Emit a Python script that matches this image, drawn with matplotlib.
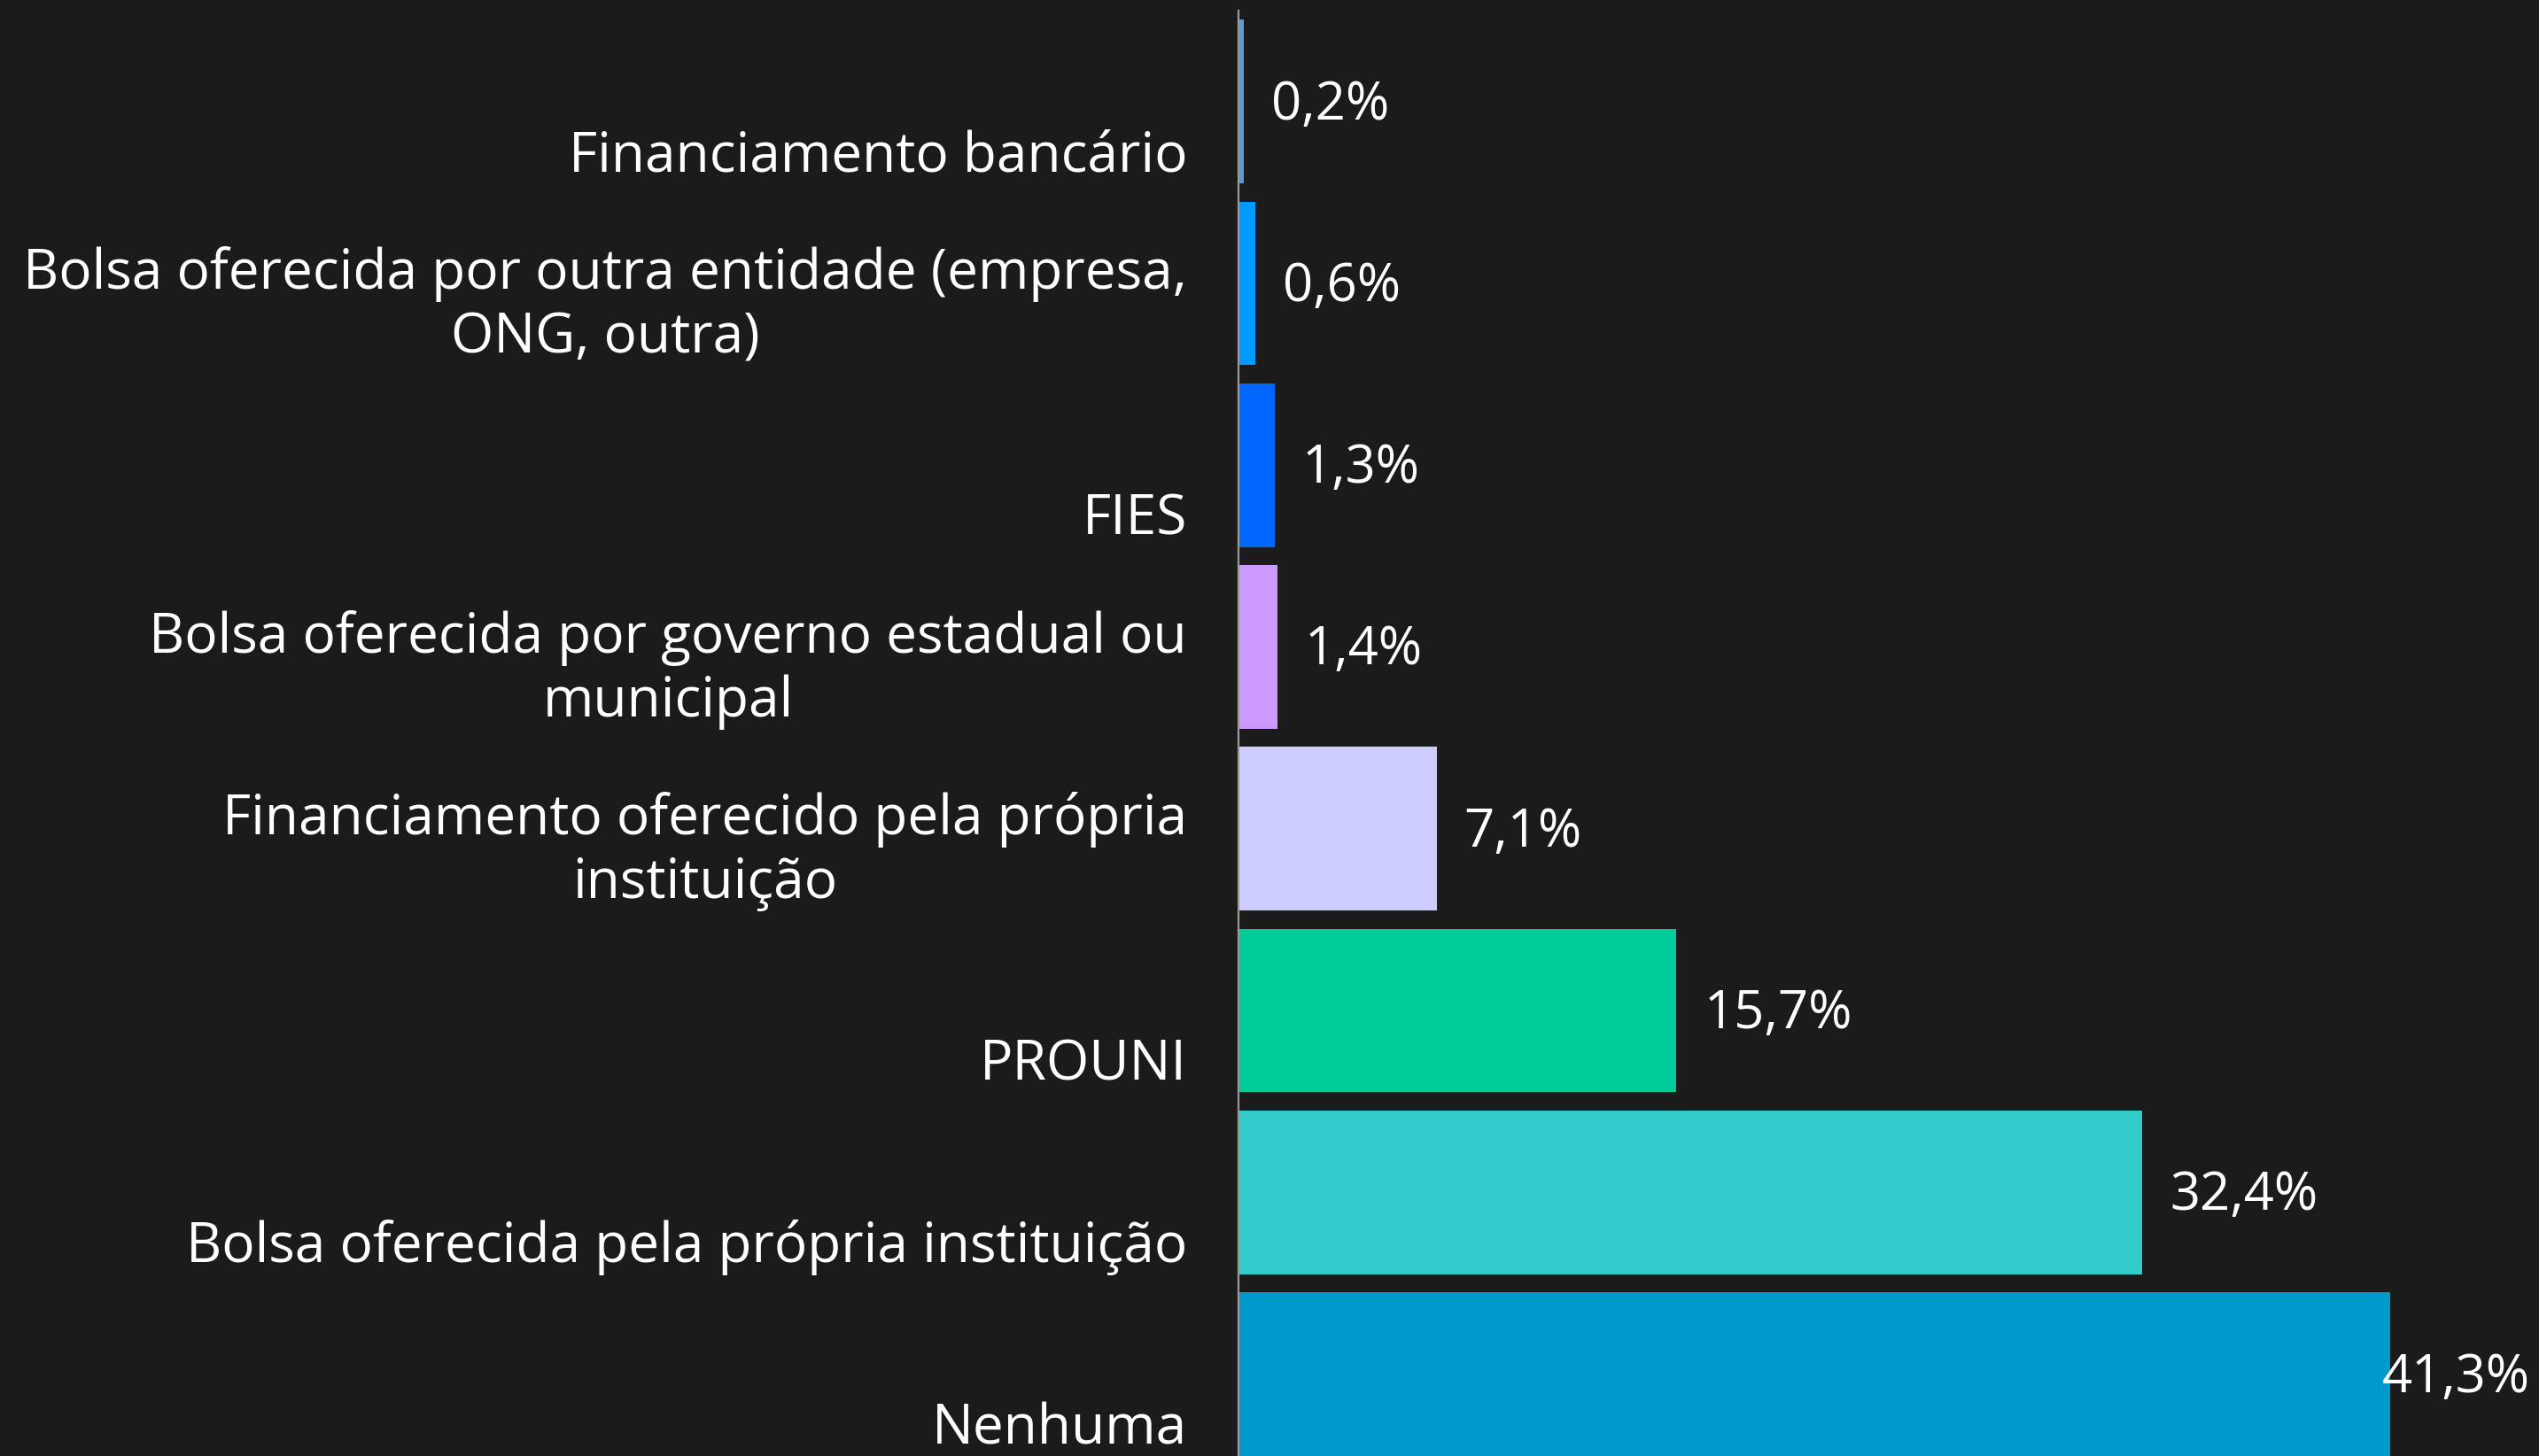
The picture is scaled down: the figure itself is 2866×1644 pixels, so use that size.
import numpy as np
import matplotlib
matplotlib.use("Agg")
import matplotlib.pyplot as plt
import matplotlib.transforms as mtransforms

labels = [
    "Financiamento bancário",
    "Bolsa oferecida por outra entidade (empresa,\nONG, outra)",
    "FIES",
    "Bolsa oferecida por governo estadual ou\nmunicipal",
    "Financiamento oferecido pela própria\ninstituição",
    "PROUNI",
    "Bolsa oferecida pela própria instituição",
    "Nenhuma",
]
values = [0.2, 0.6, 1.3, 1.4, 7.1, 15.7, 32.4, 41.3]
value_text = ["0,2%", "0,6%", "1,3%", "1,4%", "7,1%", "15,7%", "32,4%", "41,3%"]
colors = ["#5b9bd5", "#0099ff", "#0066ff", "#cc99ff", "#ccccff", "#00cc99", "#33cccc", "#0099cc"]

bg = "#1b1b1b"
plt.rcParams["font.family"] = ["Open Sans", "DejaVu Sans"]

W, H = 2866, 1644
fig = plt.figure(figsize=(W / 100, H / 100), dpi=100, facecolor=bg)
ax_left = 1398 / W
ax = fig.add_axes([ax_left, 0, 1 - ax_left, 1 - 12 / H], facecolor=bg)

y = np.arange(len(values))
ax.barh(y, values, height=0.9, color=colors, edgecolor="none")

ax.set_xlim(0, 46.63)
ax.set_ylim(7.45, -0.5)
ax.set_xticks([])
ax.set_yticks([])
for s in ["top", "right", "bottom"]:
    ax.spines[s].set_visible(False)
ax.spines["left"].set_color("#9a9a9a")
ax.spines["left"].set_linewidth(1.6)

fs = 44.7

# category labels, right-aligned, baseline below the bar centre
lab_tr = mtransforms.blended_transform_factory(fig.transFigure, ax.transData)
for yi, lab in zip(y, labels):
    ax.text(1340 / W, yi + 0.455, lab, transform=lab_tr, ha="right", va="bottom",
            multialignment="center", fontsize=fs, color="white", linespacing=1.2)

# value labels
off = mtransforms.offset_copy(ax.transData, fig=fig, x=31, y=-4, units="dots")
for yi, v, t in zip(y, values, value_text):
    if v > 40:
        tr = mtransforms.offset_copy(
            mtransforms.blended_transform_factory(ax.transAxes, ax.transData),
            fig=fig, x=0, y=-4, units="dots")
        ax.text(0.993, yi, t, transform=tr, ha="right", va="center", fontsize=43, color="white")
    else:
        ax.text(v, yi, t, transform=off, ha="left", va="center", fontsize=43, color="white")

fig.savefig("out.png", dpi=100, facecolor=bg)
